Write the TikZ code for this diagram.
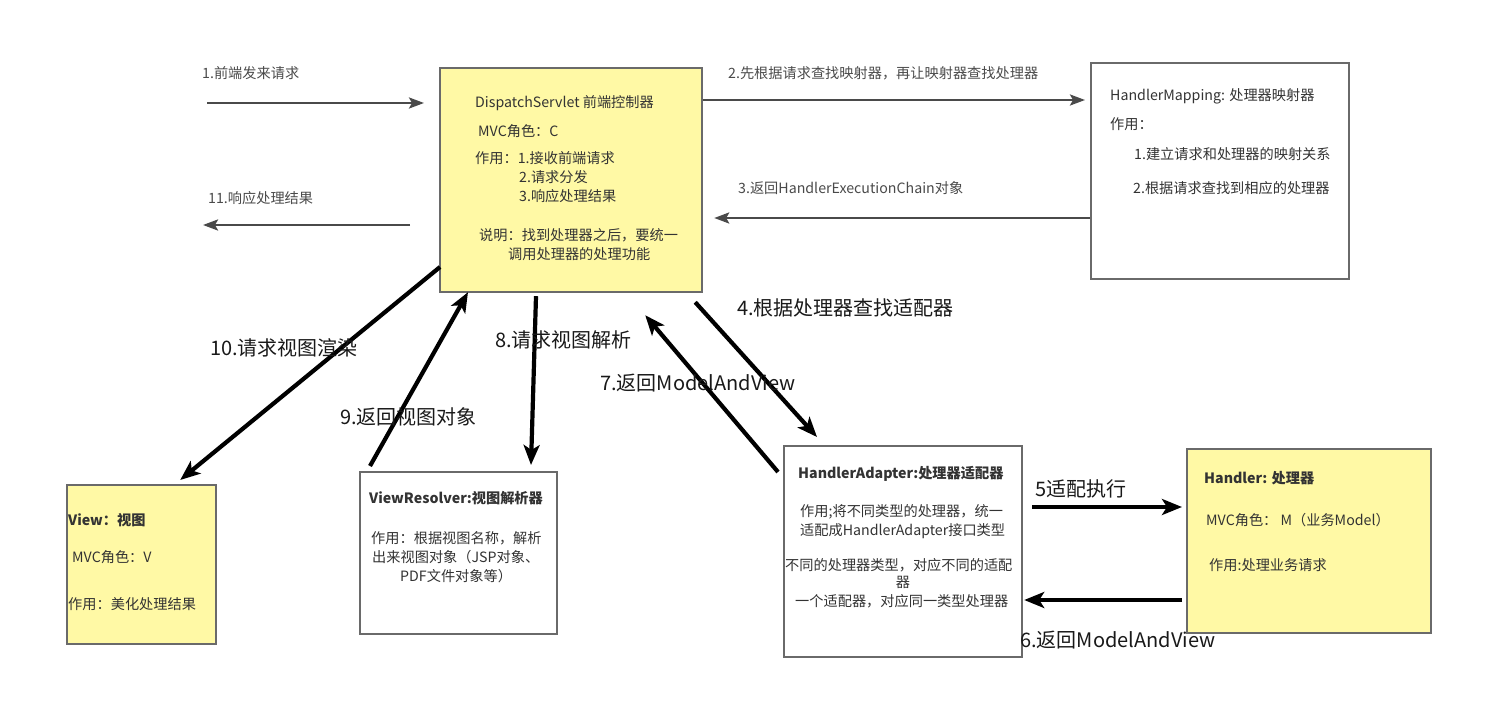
\documentclass[tikz,border=0pt]{standalone}
\usepackage{fontspec}
\newfontfamily\cjk{Noto Sans CJK SC}
\usepackage{tikz}
\usetikzlibrary{calc,arrows.meta}
\definecolor{NoteYellow}{HTML}{FFF9A5}
\definecolor{BoxGray}{HTML}{6A6A6A}
\definecolor{TextGray}{HTML}{333333}
\definecolor{ArrowGray}{HTML}{4A4A4A}
\tikzstyle{box} = [draw=BoxGray,line width=2.2pt,anchor=north west,inner sep=0pt,fill=white]
\tikzstyle{ybox} = [box,fill=NoteYellow]
\tikzstyle{txt} = [anchor=west,inner sep=0pt,text=TextGray,font=\cjk\fontsize{14.2}{17}\selectfont]
\tikzstyle{ttl} = [txt,font=\cjk\bfseries\fontsize{14.2}{17}\selectfont]
\tikzstyle{steplabel} = [anchor=west,inner sep=0pt,text=ArrowGray,font=\cjk\fontsize{14.2}{17}\selectfont]
\tikzstyle{biglabel} = [anchor=west,inner sep=0pt,text=black!90,font=\cjk\fontsize{20}{24}\selectfont]
\tikzstyle{req} = [draw=ArrowGray,line width=2.6pt,-{Stealth[length=15pt,width=11pt,inset=3pt]}]
\tikzstyle{call} = [draw=black,line width=4.2pt,-{Stealth[length=20pt,width=16pt,inset=5pt]}]

\begin{document}
\begin{tikzpicture}[x=1pt,y=-1pt]
	\useasboundingbox (0,0) rectangle (1502,706);
	\node[ybox,minimum width=262pt,minimum height=224pt] (ds) at (439,67) {};
	\node[box,minimum width=258pt,minimum height=216pt] (hm) at (1090,62) {};
	\node[ybox,minimum width=149pt,minimum height=159pt] (view) at (66,484) {};
	\node[box,minimum width=197pt,minimum height=162pt] (vr) at (359,471) {};
	\node[box,minimum width=238pt,minimum height=211pt] (ha) at (783,445) {};
	\node[ybox,minimum width=244pt,minimum height=184pt] (hd) at (1186,448) {};
	
	\node[txt] (dst) at ($(ds.north west)+(36,36)$) {DispatchServlet 前端控制器};
	\node[txt] (dsr) at ($(ds.north west)+(39,64)$) {MVC角色：C};
	\node[txt] (dsu) at ($(ds.north west)+(36,91)$) {作用：1.接收前端请求};
	\node[txt] (dsu2) at ($(ds.north west)+(80,110)$) {2.请求分发};
	\node[txt] (dsu3) at ($(ds.north west)+(80,129)$) {3.响应处理结果};
	\node[txt] (dsn) at ($(ds.north west)+(40,168)$) {说明：找到处理器之后，要统一};
	\node[txt] (dsn2) at ($(ds.north west)+(69,187)$) {调用处理器的处理功能};
	
	\node[txt] (hmt) at ($(hm.north west)+(20,34)$) {HandlerMapping: 处理器映射器};
	\node[txt] (hmu) at ($(hm.north west)+(20,62)$) {作用：};
	\node[txt] (hmu1) at ($(hm.north west)+(44,92)$) {1.建立请求和处理器的映射关系};
	\node[txt] (hmu2) at ($(hm.north west)+(43,126)$) {2.根据请求查找到相应的处理器};
	
	\node[ttl] (viewt) at ($(view.north west)+(2,36)$) {View：视图};
	\node[txt] (viewr) at ($(view.north west)+(6,73)$) {MVC角色：V};
	\node[txt] (viewu) at ($(view.north west)+(2,120)$) {作用：美化处理结果};
	
	\node[ttl] (vrt) at ($(vr.north west)+(10,27)$) {ViewResolver:视图解析器};
	\node[txt] (vru1) at ($(vr.north west)+(12,67)$) {作用：根据视图名称，解析};
	\node[txt] (vru2) at ($(vr.north west)+(13,86)$) {出来视图对象（JSP对象、};
	\node[txt] (vru3) at ($(vr.north west)+(41,105)$) {PDF文件对象等）};
	
	\node[ttl] (hat) at ($(ha.north west)+(15,29)$) {HandlerAdapter:处理器适配器};
	\node[txt] (hau1) at ($(ha.north west)+(17,67)$) {作用;将不同类型的处理器，统一};
	\node[txt] (hau2) at ($(ha.north west)+(17,86)$) {适配成HandlerAdapter接口类型};
	\node[txt] (han1) at ($(ha.north west)+(2,120)$) {不同的处理器类型，对应不同的适配};
	\node[txt,anchor=center] (han2) at ($(ha.north west)+(120,137)$) {器};
	\node[txt] (han3) at ($(ha.north west)+(12,156)$) {一个适配器，对应同一类型处理器};
	
	\node[ttl] (hdt) at ($(hd.north west)+(18,30)$) {Handler: 处理器};
	\node[txt] (hdr) at ($(hd.north west)+(20,72)$) {MVC角色： M（业务Model）};
	\node[txt] (hdu) at ($(hd.north west)+(23,117)$) {作用:处理业务请求};
	
	\coordinate (client) at (207,103);
	\coordinate (reply) at (203,225);
	\draw[req,shorten >=15pt] (client) -- ($(ds.north west)+(0,36)$);
	\draw[req,shorten <=29pt] ($(ds.north west)+(0,158)$) -- (reply);
	\draw[req,shorten >=5pt] ($(ds.north east)+(0,33)$) -- ($(hm.north west)+(0,38)$);
	\draw[req,shorten >=11pt] ($(hm.north west)+(0,156)$) -- ($(ds.north east)+(0,151)$);
	
	\draw[call] ($(ds.north west)+(1,200)$) -- ($(view.north east)+(-37,-4)$);
	\draw[call] ($(vr.north west)+(11,-5)$) -- ($(ds.south west)+(29,-1)$);
	\draw[call] ($(ds.south west)+(97,3)$) -- ($(vr.north west)+(172,-6)$);
	\draw[call] ($(ha.north west)+(-5,27)$) -- ($(ds.south east)+(-58,22)$);
	\draw[call] ($(ds.south east)+(-8,9)$) -- ($(ha.north west)+(34,-8)$);
	\draw[call] ($(ha.north east)+(9,62)$) -- ($(hd.north west)+(-4,59)$);
	\draw[call] ($(hd.north west)+(-4,152)$) -- ($(ha.north east)+(1,155)$);
	
	\node[steplabel] (s1) at (202,73) {1.前端发来请求};
	\node[steplabel] (s11) at (208,198) {11.响应处理结果};
	\node[steplabel] (s2) at (728,73) {2.先根据请求查找映射器，再让映射器查找处理器};
	\node[steplabel] (s3) at (738,188) {3.返回HandlerExecutionChain对象};
	\node[biglabel] (s10) at (210,348) {10.请求视图渲染};
	\node[biglabel] (s9) at (340,417) {9.返回视图对象};
	\node[biglabel] (s8) at (495,340) {8.请求视图解析};
	\node[biglabel] (s7) at (600,383) {7.返回ModelAndView};
	\node[biglabel] (s4) at (737,308) {4.根据处理器查找适配器};
	\node[biglabel] (s5) at (1035,489) {5适配执行};
	\node[biglabel] (s6) at (1020,640) {6.返回ModelAndView};
\end{tikzpicture}
\end{document}
